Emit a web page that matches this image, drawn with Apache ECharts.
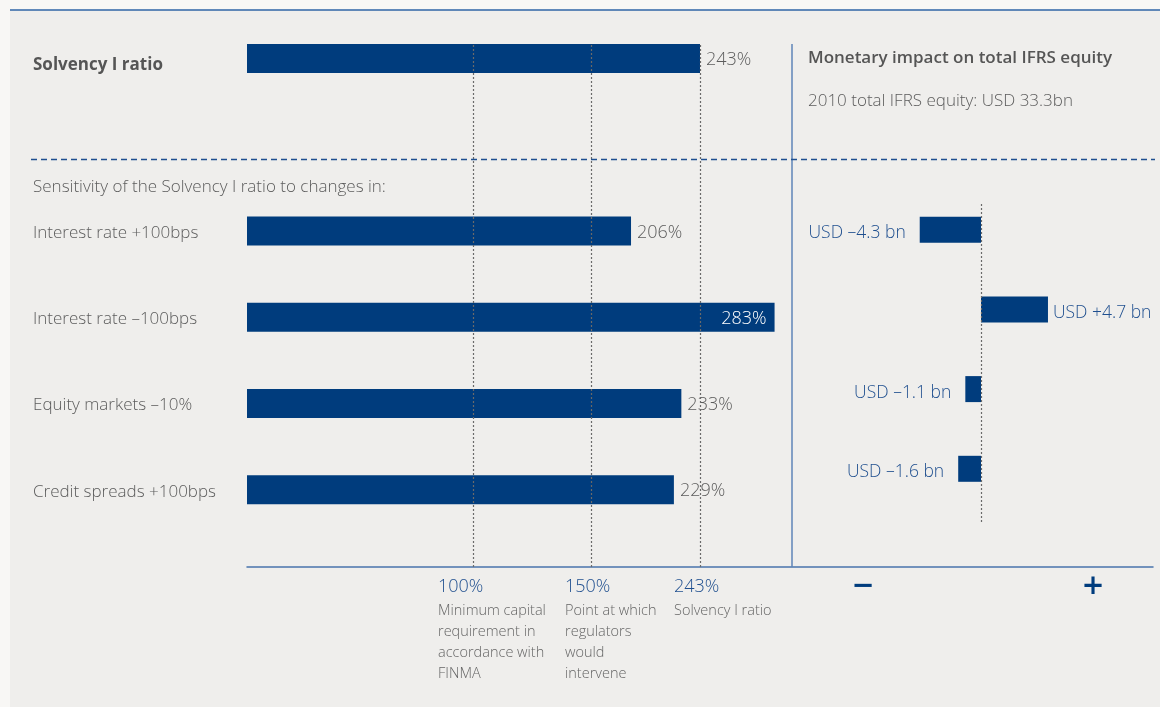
<!DOCTYPE html>
<html>
<head>
<meta charset="utf-8">
<script src="https://cdn.jsdelivr.net/npm/echarts@6/dist/echarts.min.js"></script>
<style>
html,body{margin:0;padding:0;background:#f8f7f5;}
#chart{width:1160px;height:707px;}
</style>
</head>
<body>
<div id="chart"></div>
<script>
// ---------- data ----------
const categories = ['Solvency I ratio', '', 'Interest rate +100bps', 'Interest rate –100bps', 'Equity markets –10%', 'Credit spreads +100bps'];
const solvencyRatios = [243, null, 206, 283, 233, 229];
const impactCategories = ['Interest rate +100bps', 'Interest rate –100bps', 'Equity markets –10%', 'Credit spreads +100bps'];
const equityImpactBn = [-4.3, 4.7, -1.1, -1.6];
const thresholdValues = [100, 150];
const thresholdLabels = ['100%', '150%'];
const thresholdNotes = [
  ['Minimum capital', 'requirement in', 'accordance with', 'FINMA'],
  ['Point at which', 'regulators', 'would', 'intervene']
];
const currentRatio = 243;
const currentRatioLabel = '243%';
const currentRatioNote = ['Solvency I ratio'];
const titleLeft = 'Sensitivity of the Solvency I ratio to changes in:';
const titleRight = 'Monetary impact on total IFRS equity';
const subtitleRight = '2010 total IFRS equity: USD 33.3bn';

// ---------- styles ----------
const FONT = "'Open Sans', 'Noto Sans', sans-serif";
const NAVY = '#003c7d';
const GRAY = '#5c5c5c';
const BLUE_TEXT = '#1f4f8f';
const LINE_BLUE = '#4a74ac';
const DOT_GRAY = '#6a6a6a';
const noteShift = [-35, -26];
const currentNoteShift = -26;

const maxRatio = Math.max(...solvencyRatios.filter(v => v != null));

const chart = echarts.init(document.getElementById('chart'), null, {renderer: 'canvas'});

const option = {
  animation: false,
  backgroundColor: '#f8f7f5',
  textStyle: {fontFamily: FONT},
  title: [
    {text: titleLeft, left: 33, top: 179, padding: 0, textStyle: {fontFamily: FONT, fontSize: 17, fontWeight: 300, color: GRAY}},
    {text: titleRight, left: 808, top: 50, padding: 0, textStyle: {fontFamily: FONT, fontSize: 17, fontWeight: 600, color: '#555'}},
    {text: subtitleRight, left: 808, top: 93, padding: 0, textStyle: {fontFamily: FONT, fontSize: 17, fontWeight: 300, color: GRAY}}
  ],
  grid: [
    {left: 247, top: 15.3, width: 906, height: 517.5, outerBoundsMode: 'none', containLabel: false},
    {left: 838.5, top: 189.85, width: 285, height: 318.8, outerBoundsMode: 'none', containLabel: false},
    {left: 247, top: 44, width: 906, height: 523, outerBoundsMode: 'none', containLabel: false},
    {left: 838.5, top: 203, width: 285, height: 319, outerBoundsMode: 'none', containLabel: false}
  ],
  xAxis: [
    {gridIndex: 0, type: 'value', min: 0, max: 486, show: false},
    {gridIndex: 1, type: 'value', min: -10, max: 10, show: false},
    {gridIndex: 2, type: 'value', min: 0, max: 486, position: 'bottom',
      axisLine: {show: true, onZero: false, lineStyle: {color: LINE_BLUE, width: 1.5}},
      axisTick: {show: false}, axisLabel: {show: false}, splitLine: {show: false}},
    {gridIndex: 2, type: 'value', min: 4.24, max: 388.1, show: false},
    {gridIndex: 3, type: 'value', min: -10, max: 10, show: false}
  ],
  yAxis: [
    {gridIndex: 0, type: 'category', inverse: true, data: categories,
      axisLine: {show: false}, axisTick: {show: false}, splitLine: {show: false},
      axisLabel: {
        align: 'left', margin: 214, fontSize: 17, fontWeight: 300, color: GRAY, fontFamily: FONT,
        padding: [4, 0, 0, 0],
        formatter: v => v === categories[0] ? '{b|' + v + '}' : v,
        rich: {b: {fontSize: 17, fontWeight: 'bold', color: '#555', fontFamily: FONT, padding: [9, 0, 0, 0]}}
      }},
    {gridIndex: 1, type: 'category', inverse: true, data: impactCategories, show: false},
    {gridIndex: 2, type: 'value', min: 0, max: 1, show: false},
    {gridIndex: 3, type: 'value', min: 0, max: 1, show: false}
  ],
  series: [
    {
      name: 'Solvency I ratio', type: 'bar', xAxisIndex: 0, yAxisIndex: 0, barWidth: 29, z: 2,
      itemStyle: {color: NAVY},
      label: {show: true, position: 'right', distance: 6, fontSize: 18, fontWeight: 300, color: GRAY, fontFamily: FONT,
        offset: [0, 1.5], formatter: p => p.value + '%'},
      data: solvencyRatios.map(v => v === maxRatio
        ? {value: v, label: {position: 'insideRight', distance: 8, color: '#ffffff'}}
        : v)
    },
    {
      name: 'Equity impact', type: 'bar', xAxisIndex: 1, yAxisIndex: 1, barWidth: 26, z: 2,
      itemStyle: {color: NAVY},
      label: {show: true, fontSize: 17.5, fontWeight: 300, color: BLUE_TEXT, fontFamily: FONT, offset: [0, 3.5],
        formatter: p => 'USD ' + (p.value < 0 ? '–' : '+') + Math.abs(p.value).toFixed(1) + ' bn'},
      data: equityImpactBn.map(v => ({value: v, label: {position: v < 0 ? 'left' : 'right', distance: v < 0 ? 14 : 5}}))
    },
    {
      type: 'line', xAxisIndex: 2, yAxisIndex: 2, data: [], z: 5, silent: true,
      markLine: {symbol: 'none', silent: true, label: {show: false},
        lineStyle: {color: DOT_GRAY, type: [2, 2], width: 1.2},
        data: [{xAxis: currentRatio}]}
    },
    {
      type: 'line', xAxisIndex: 3, yAxisIndex: 2, data: [], z: 5, silent: true,
      markLine: {symbol: 'none', silent: true, label: {show: false},
        lineStyle: {color: DOT_GRAY, type: [2, 2], width: 1.2},
        data: thresholdValues.map(v => ({xAxis: v}))}
    },
    {
      type: 'line', xAxisIndex: 4, yAxisIndex: 3, data: [], z: 5, silent: true,
      markLine: {symbol: 'none', silent: true, label: {show: false},
        lineStyle: {color: DOT_GRAY, type: [2, 2], width: 1.2},
        data: [{xAxis: 0}]}
    }
  ]
};

chart.setOption(option);

// ---------- decorations & annotations tied to the axes ----------
const graphics = [
  {type: 'rect', z: -10, shape: {x: 10, y: 10, width: 1150, height: 697}, style: {fill: '#efeeec'}, silent: true},
  {type: 'line', z: 10, shape: {x1: 10, y1: 10, x2: 1160, y2: 10}, style: {stroke: '#2f64a6', lineWidth: 1.5}, silent: true},
  {type: 'line', z: 10, shape: {x1: 792, y1: 44, x2: 792, y2: 567}, style: {stroke: '#5f84b9', lineWidth: 1.5}, silent: true},
  {type: 'line', z: 10, shape: {x1: 31, y1: 159.5, x2: 1155, y2: 159.5}, style: {stroke: '#1f4f8f', lineWidth: 1.5, lineDash: [6, 4]}, silent: true}
];

function annotation(px, label, notes) {
  graphics.push({type: 'text', z: 10, x: px, y: 578, silent: true,
    style: {text: label, font: '300 18px ' + FONT, fill: BLUE_TEXT, textVerticalAlign: 'top'}});
  graphics.push({type: 'text', z: 10, x: px, y: 600, silent: true,
    style: {text: notes.join('\n'), font: '300 14.5px ' + FONT, fill: '#666', lineHeight: 21, textVerticalAlign: 'top'}});
}
thresholdValues.forEach((v, i) => {
  const px = chart.convertToPixel({xAxisIndex: 3}, v) + noteShift[i];
  annotation(px, thresholdLabels[i], thresholdNotes[i]);
});
annotation(chart.convertToPixel({xAxisIndex: 2}, currentRatio) + currentNoteShift, currentRatioLabel, currentRatioNote);

const zeroPx = chart.convertToPixel({xAxisIndex: 1}, 0);
graphics.push({type: 'text', z: 10, x: zeroPx - 118, y: 588, silent: true,
  style: {text: '−', font: '600 36px ' + FONT, fill: NAVY, textAlign: 'center', textVerticalAlign: 'middle'}});
graphics.push({type: 'text', z: 10, x: zeroPx + 112, y: 588, silent: true,
  style: {text: '+', font: '600 36px ' + FONT, fill: NAVY, textAlign: 'center', textVerticalAlign: 'middle'}});

chart.setOption({graphic: graphics});
</script>
</body>
</html>
